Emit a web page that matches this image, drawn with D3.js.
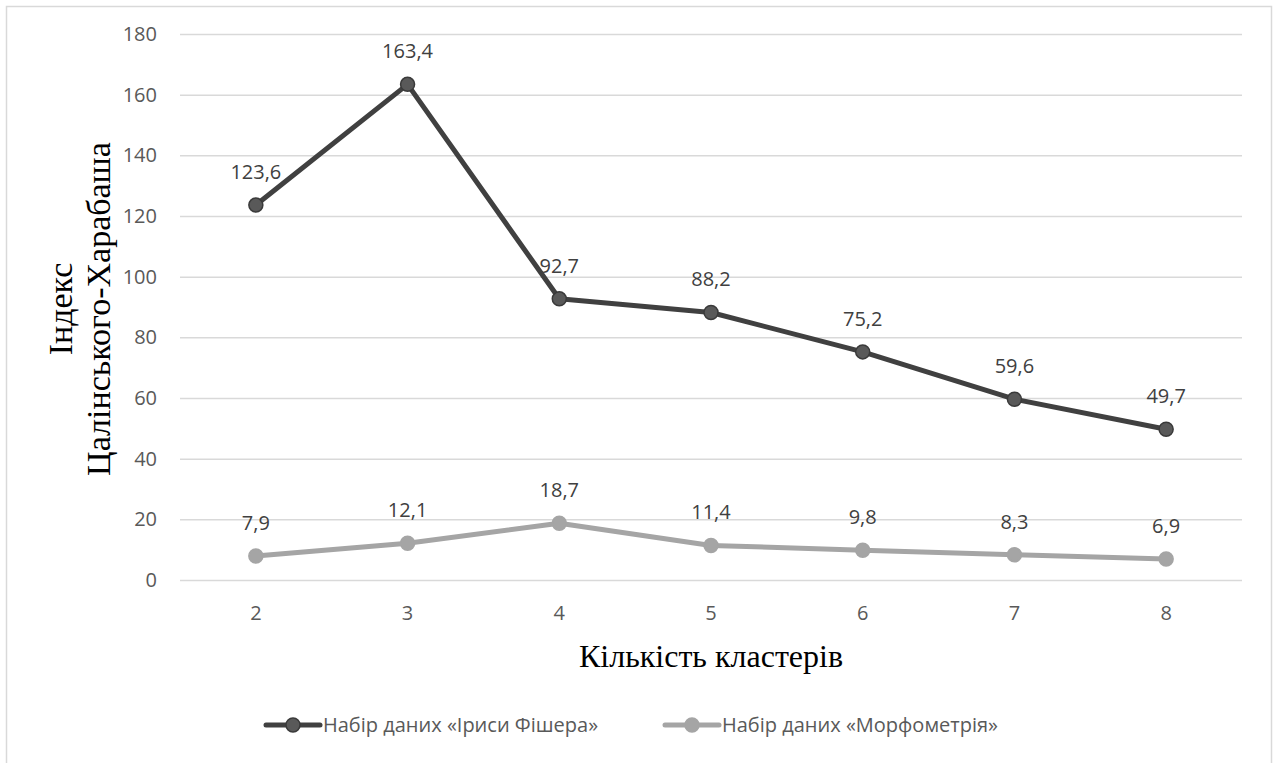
<!DOCTYPE html>
<html>
<head>
<meta charset="utf-8">
<script src="https://cdn.jsdelivr.net/npm/d3@7"></script>
<style>
  html, body { margin: 0; padding: 0; background: #fff; }
  svg { display: block; }
</style>
</head>
<body>
<svg id="chart" width="1278" height="763"></svg>
<script>
// Number of clusters
const categories = ["2", "3", "4", "5", "6", "7", "8"];
// Calinski–Harabasz index values for each dataset
const irisValues = [123.6, 163.4, 92.7, 88.2, 75.2, 59.6, 49.7];
const morphValues = [7.9, 12.1, 18.7, 11.4, 9.8, 8.3, 6.9];
const yTicks = [0, 20, 40, 60, 80, 100, 120, 140, 160, 180];
const seriesNames = ["Набір даних «Іриси Фішера»", "Набір даних «Морфометрія»"];

const series = [
  { name: seriesNames[0], values: irisValues, line: "#404040", fill: "#595959", stroke: "#3a3a3a" },
  { name: seriesNames[1], values: morphValues, line: "#a5a5a5", fill: "#a5a5a5", stroke: "#a5a5a5" }
];

const svg = d3.select("#chart");
const plot = { left: 180, right: 1242, top: 34, bottom: 580 };
const sansFont = "'Open Sans', 'Liberation Sans', sans-serif";
const serifFont = "'Liberation Serif', 'DejaVu Serif', serif";
const labelSize = 20;

// chart frame
svg.append("rect")
  .attr("x", 6.5).attr("y", 6.5)
  .attr("width", 1265).attr("height", 770)
  .attr("fill", "#fff").attr("stroke", "#d9d9d9").attr("stroke-width", 1.5);

const x = d3.scaleBand().domain(categories).range([plot.left, plot.right]);
const y = d3.scaleLinear().domain([0, 180]).range([plot.bottom, plot.top]);
const cx = c => x(c) + x.bandwidth() / 2;

// horizontal gridlines and y tick labels
const yAxis = d3.axisLeft(y).tickValues(yTicks).tickSize(-(plot.right - plot.left)).tickPadding(23);
const gy = svg.append("g").attr("transform", `translate(${plot.left},0)`).call(yAxis);
gy.select(".domain").remove();
gy.selectAll(".tick line").attr("stroke", "#d9d9d9").attr("stroke-width", 1.5);
gy.selectAll(".tick text")
  .attr("fill", "#595959").attr("font-family", sansFont).attr("font-size", labelSize);

// x category labels
const xAxis = d3.axisBottom(x).tickSize(0).tickPadding(26);
const gx = svg.append("g").attr("transform", `translate(0,${plot.bottom})`).call(xAxis);
gx.select(".domain").remove();
gx.selectAll(".tick text")
  .attr("fill", "#595959").attr("font-family", sansFont).attr("font-size", labelSize);

// series lines, markers and value labels
const line = d3.line().x((d, i) => cx(categories[i])).y(d => y(d));
series.forEach(s => {
  const g = svg.append("g");
  g.append("path")
    .datum(s.values)
    .attr("d", line)
    .attr("fill", "none")
    .attr("stroke", s.line)
    .attr("stroke-width", 5)
    .attr("stroke-linejoin", "round");
  g.selectAll("circle")
    .data(s.values)
    .join("circle")
    .attr("cx", (d, i) => cx(categories[i]))
    .attr("cy", d => y(d))
    .attr("r", 7)
    .attr("fill", s.fill)
    .attr("stroke", s.stroke)
    .attr("stroke-width", 1.5);
  g.selectAll("text")
    .data(s.values)
    .join("text")
    .attr("x", (d, i) => cx(categories[i]))
    .attr("y", d => y(d) - 26)
    .attr("text-anchor", "middle")
    .attr("fill", "#404040")
    .attr("font-family", sansFont)
    .attr("font-size", labelSize)
    .text(d => d.toFixed(1).replace(".", ","));
});

// axis titles
const yTitle = svg.append("text")
  .attr("transform", `translate(86,309) rotate(-90)`)
  .attr("text-anchor", "middle")
  .attr("font-family", serifFont)
  .attr("font-size", 34)
  .attr("fill", "#000");
yTitle.append("tspan").attr("x", 0).attr("dy", "-0.4em").text("Індекс");
yTitle.append("tspan").attr("x", 0).attr("dy", "1.1em").text("Цалінського-Харабаша");

svg.append("text")
  .attr("x", (plot.left + plot.right) / 2)
  .attr("y", 667)
  .attr("text-anchor", "middle")
  .attr("font-family", serifFont)
  .attr("font-size", 32)
  .attr("fill", "#000")
  .text("Кількість кластерів");

// legend
const legendItems = [
  { s: series[0], x: 266 },
  { s: series[1], x: 665 }
];
const ly = 725;
legendItems.forEach(({ s, x: lx }) => {
  const g = svg.append("g");
  g.append("line")
    .attr("x1", lx).attr("x2", lx + 54)
    .attr("y1", ly).attr("y2", ly)
    .attr("stroke", s.line).attr("stroke-width", 5).attr("stroke-linecap", "round");
  g.append("circle")
    .attr("cx", lx + 27).attr("cy", ly).attr("r", 7)
    .attr("fill", s.fill).attr("stroke", s.stroke).attr("stroke-width", 1.5);
  g.append("text")
    .attr("x", lx + 57).attr("y", ly)
    .attr("dy", "0.35em")
    .attr("font-family", sansFont)
    .attr("font-size", labelSize)
    .attr("fill", "#595959")
    .text(s.name);
});
</script>
</body>
</html>
